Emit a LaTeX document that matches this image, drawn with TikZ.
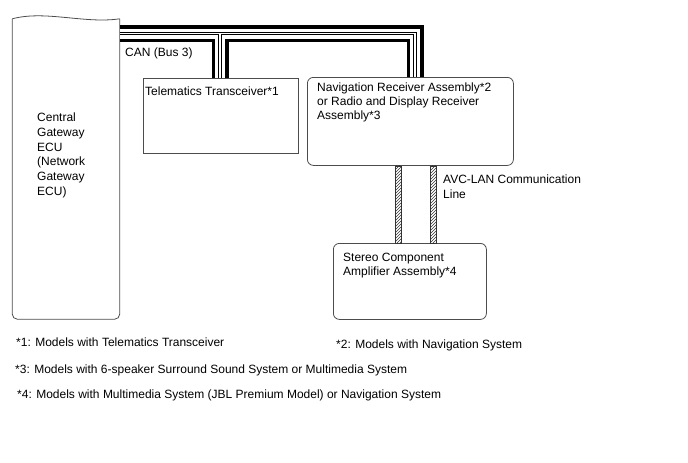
\documentclass[tikz,border=0pt]{standalone}
\usepackage{fontspec}
\setmainfont{Liberation Sans}
\usetikzlibrary{calc,patterns}

\begin{document}
\begin{tikzpicture}[x=1pt,y=-1pt,
    txt/.style={anchor=base west,inner sep=0pt,align=left,
                font=\fontsize{12}{14.5}\selectfont},
    unit/.style={draw=black!70,line width=0.8pt,inner sep=0pt,anchor=north west},
    avc/.style={draw=black!80,line width=0.6pt,pattern=north east lines,
                pattern color=black!80}]

    \useasboundingbox (0,0) rectangle (688,463);

    % Units
    \node (gw) [minimum width=107pt,minimum height=300pt,inner sep=0pt] at (66,169) {};
    \node (tel) [unit,minimum width=155pt,minimum height=75pt] at (143,77.5) {};
    \node (nav) [unit,rounded corners=6pt,minimum width=206pt,minimum height=88pt] at (307,77) {};
    \node (stereo) [unit,rounded corners=6pt,minimum width=153pt,minimum height=76pt] at (333,243) {};

    % Gateway outline (wavy top)
    \draw[black!70,line width=0.8pt]
        (gw.north west) .. controls (45,10) and (85,24) .. (gw.north east);
    \draw[black!70,line width=0.8pt,rounded corners=5pt]
        (gw.north east) -- (gw.south east) -- (gw.south west) -- (gw.north west);

    % Labels (multi-line ones sit on their last baseline)
    \node (gwlbl) [txt,font=\fontsize{12}{14.8}\selectfont] at (37,195.5)
          {Central\\Gateway\\ECU\\(Network\\Gateway\\ECU)};
    \node (tellbl) [txt] at (145,95) {Telematics Transceiver*1};
    \node (navlbl) [txt,font=\fontsize{12}{14}\selectfont] at (317,119.5)
          {Navigation Receiver Assembly*2\\or Radio and Display Receiver\\Assembly*3};
    \node (stlbl) [txt,font=\fontsize{12}{14}\selectfont] at (343,275.5)
          {Stereo Component\\Amplifier Assembly*4};
    \node (canlbl) [txt] at (125,56) {CAN (Bus 3)};
    \node (avclbl) [txt] at (443,198) {AVC-LAN Communication\\Line};

    % Notes
    \node (n1) [txt] at (16,346.5) {*1: Models with Telematics Transceiver};
    \node (n2) [txt] at (336,348.5) {*2: Models with Navigation System};
    \node (n3) [txt] at (15,373.5) {*3: Models with 6-speaker Surround Sound System or Multimedia System};
    \node (n4) [txt] at (17,398.5) {*4: Models with Multimedia System (JBL Premium Model) or Navigation System};

    % CAN bus
    \coordinate (can) at (0,33.5);
    \foreach \w/\c in {17/black,10/white,3.4/black,1.6/white}
        \draw[line width=\w pt,\c]
            (gw.east |- can) -| ([xshift=108pt]nav.north west)
            (gw.east |- can) -| ([xshift=77pt]tel.north west);

    % AVC-LAN
    \path[avc] ([xshift=88pt]nav.south west) rectangle ([xshift=68pt]stereo.north west);
    \path[avc] ([xshift=123pt]nav.south west) rectangle ([xshift=103pt]stereo.north west);

\end{tikzpicture}
\end{document}
